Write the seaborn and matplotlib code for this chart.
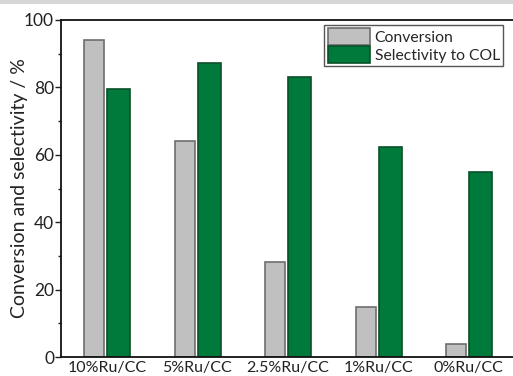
import matplotlib
matplotlib.use("Agg")
import matplotlib.pyplot as plt
from matplotlib.patches import Rectangle
import seaborn as sns
import pandas as pd

catalysts = ["10%Ru/CC", "5%Ru/CC", "2.5%Ru/CC", "1%Ru/CC", "0%Ru/CC"]
conversion = [94.2, 64.0, 28.1, 14.9, 3.8]
selectivity = [79.6, 87.2, 83.2, 62.4, 54.9]
series_names = ["Conversion", "Selectivity to COL"]
y_ticks = [0, 20, 40, 60, 80, 100]

df = pd.DataFrame({
    "catalyst": catalysts * 2,
    "value": conversion + selectivity,
    "series": [series_names[0]] * len(catalysts) + [series_names[1]] * len(catalysts),
})

sns.set_theme(style="ticks")
plt.rcParams["font.family"] = ["Lato", "DejaVu Sans"]

fig = plt.figure(figsize=(5.13, 3.76), dpi=100)
fig.patch.set_facecolor("white")
# thin grey band along the top edge
fig.patches.append(Rectangle((0, 1 - 4 / 376), 1, 4 / 376, transform=fig.transFigure,
                             facecolor="#d6d6d6", edgecolor="none", zorder=-1))

ax = fig.add_axes([61 / 513, 19 / 376, 453 / 513, 337 / 376])

fills = {"Conversion": "#c0c0c0", "Selectivity to COL": "#007a3a"}
sns.barplot(data=df, x="catalyst", y="value", hue="series", palette=fills,
            saturation=1, width=0.52, gap=0.0, ax=ax, legend=True)

# per-series bar widths and edge colours
edges = ["#6e6e6e", "#0a4f28"]
widths = [0.221, 0.254]
offsets = [-0.138, 0.133]
for cont, ec, w, off in zip(ax.containers, edges, widths, offsets):
    for i, bar in enumerate(cont.patches):
        bar.set_width(w)
        bar.set_x(i + off - w / 2)
        bar.set_edgecolor(ec)
        bar.set_linewidth(1.2)

ax.set_xlim(-0.508, 4.5)
ax.set_ylim(0, 100)
ax.set_yticks(y_ticks)
ax.set_yticks([10, 30, 50, 70, 90], minor=True)
ax.tick_params(axis="y", which="major", length=4, width=1, color="#222222",
               labelsize=12.5, labelcolor="#222222", pad=1)
ax.tick_params(axis="y", which="minor", length=2.5, width=1, color="#222222")
ax.tick_params(axis="x", length=0, labelsize=11.5, labelcolor="#222222", pad=3)
ax.set_xlabel("")
ax.set_ylabel("Conversion and selectivity / %", fontsize=14, color="#222222")
ax.yaxis.set_label_coords(-0.072, 0.5)

for side in ["left", "bottom", "top"]:
    ax.spines[side].set_color("#111111")
    ax.spines[side].set_linewidth(1.3)
ax.spines["right"].set_visible(False)

handles, labels = ax.get_legend_handles_labels()
leg = ax.legend(handles, labels, loc="upper right",
                bbox_to_anchor=(503 / 513, 1 - 25 / 376), bbox_transform=fig.transFigure,
                fontsize=11.3, frameon=True, fancybox=False, framealpha=1,
                edgecolor="#555555", handlelength=2.7, handleheight=1.25,
                handletextpad=0.3, labelspacing=0.1, borderpad=0.2, borderaxespad=0)
leg.get_frame().set_linewidth(1.0)
for h, ec in zip(leg.legend_handles, edges):
    h.set_edgecolor(ec)
    h.set_linewidth(1.2)

fig.savefig("out.png", dpi=100)
